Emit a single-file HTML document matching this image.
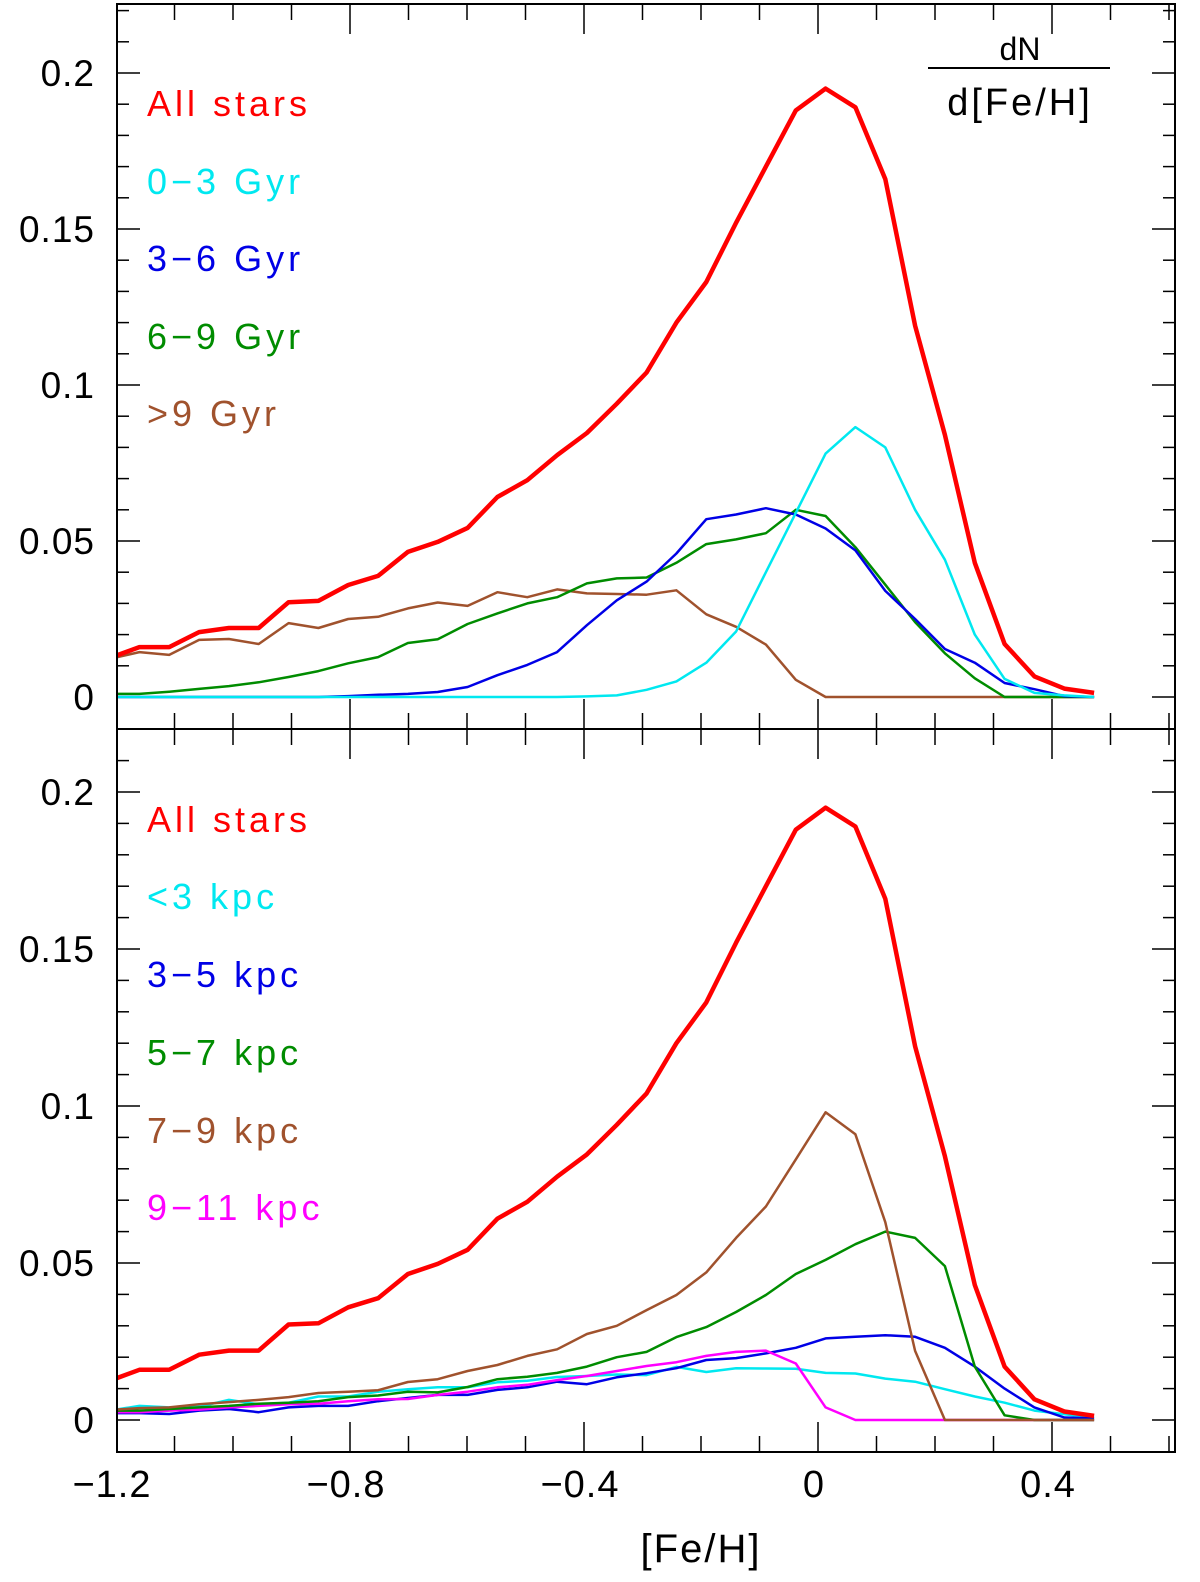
<!DOCTYPE html>
<html><head><meta charset="utf-8"><style>
body{margin:0;background:#fff}
svg{display:block;font-family:"Liberation Sans",sans-serif}
</style></head><body>
<svg id="c" width="1200" height="1582" viewBox="0 0 1200 1582"></svg>
<script>
const feh = [];
const nBins = 34;
const binStart = -1.211, binStep = 0.051;
const allStars = [0.0125,0.016,0.016,0.0208,0.0221,0.0221,0.0304,0.0308,0.0359,0.0388,0.0465,0.0497,0.0542,0.0641,0.0695,0.0775,0.0846,0.094,0.104,0.120,0.133,0.152,0.170,0.188,0.195,0.189,0.166,0.119,0.084,0.043,0.017,0.0066,0.0027,0.0013];
const age03 = [0,0,0,0,0,0,0,0,0,0,0,0,0,0,0,0,0.0002,0.0005,0.0023,0.005,0.011,0.021,0.040,0.059,0.078,0.0865,0.080,0.060,0.044,0.020,0.0058,0.0013,0.0005,0];
const age36 = [0,0,0,0,0,0,0,0,0.0003,0.0007,0.001,0.0016,0.0032,0.007,0.0103,0.0144,0.023,0.031,0.037,0.046,0.057,0.0585,0.0605,0.0585,0.054,0.047,0.034,0.025,0.0154,0.011,0.0045,0.0025,0.0003,0];
const age69 = [0.001,0.001,0.0017,0.0026,0.0035,0.0047,0.0064,0.0083,0.0108,0.0128,0.0173,0.0185,0.0234,0.0268,0.030,0.032,0.0364,0.038,0.0383,0.043,0.049,0.0505,0.0525,0.060,0.058,0.048,0.036,0.024,0.014,0.006,0,0,0,0];
const age9 = [0.0122,0.0144,0.0135,0.0183,0.0186,0.017,0.0237,0.0221,0.025,0.0257,0.0284,0.0303,0.0292,0.0336,0.032,0.0345,0.0332,0.033,0.0328,0.0342,0.0265,0.0225,0.0168,0.0055,0,0,0,0,0,0,0,0,0,0];
const r3 = [0.003,0.0045,0.004,0.0042,0.0064,0.005,0.0055,0.0075,0.0075,0.009,0.0098,0.0104,0.0104,0.012,0.0125,0.0137,0.014,0.0145,0.0143,0.0169,0.0153,0.0165,0.0164,0.0163,0.015,0.0148,0.0132,0.0122,0.0098,0.0075,0.0055,0.003,0.0018,0.0008];
const r35 = [0.0022,0.0022,0.0019,0.003,0.0035,0.0025,0.004,0.0045,0.0045,0.006,0.007,0.008,0.008,0.0096,0.0104,0.0122,0.0114,0.0136,0.0149,0.0165,0.0191,0.0197,0.0212,0.023,0.026,0.0265,0.027,0.0265,0.023,0.017,0.010,0.004,0.0008,0.0005];
const r57 = [0.003,0.003,0.0035,0.004,0.0045,0.0052,0.0055,0.006,0.0073,0.0078,0.009,0.0088,0.0105,0.013,0.0138,0.015,0.017,0.020,0.0217,0.0264,0.0296,0.0344,0.0398,0.0465,0.051,0.056,0.060,0.058,0.049,0.017,0.0015,0,0,0];
const r79 = [0.0032,0.0038,0.004,0.005,0.0057,0.0064,0.0073,0.0086,0.009,0.0095,0.0121,0.013,0.0156,0.0175,0.0204,0.0225,0.0274,0.030,0.035,0.0398,0.047,0.058,0.068,0.083,0.098,0.091,0.063,0.022,0,0,0,0,0,0];
const r911 = [0.0025,0.0025,0.003,0.0033,0.004,0.0045,0.005,0.0052,0.006,0.0066,0.0067,0.008,0.009,0.0104,0.0112,0.0127,0.014,0.0156,0.0172,0.0184,0.0204,0.0217,0.0221,0.018,0.004,0,0,0,0,0,0,0,0,0];
const xTickLabels = ["−1.2","−0.8","−0.4","0","0.4"];
const xTickVals = [-1.2,-0.8,-0.4,0,0.4];
const yTickLabels = ["0","0.05","0.1","0.15","0.2"];
const yTickVals = [0,0.05,0.1,0.15,0.2];
for(let k=0;k<nBins;k++) feh.push(binStart+binStep*k);

const NS="http://www.w3.org/2000/svg";
const svg=document.getElementById('c');
const L=117,R=1175;
const X=v=>818+585*v;
const panels=[{top:4,bot:729,zero:697,s:3120},{top:729,bot:1452,zero:1420,s:3140}];
function el(t,a,p){const e=document.createElementNS(NS,t);for(const k in a)e.setAttribute(k,a[k]);(p||svg).appendChild(e);return e;}
const defs=el('defs',{});
panels.forEach((p,i)=>{const cp=el('clipPath',{id:'clip'+i},defs);el('rect',{x:L,y:p.top,width:R-L,height:p.bot-p.top},cp);});

function drawPanel(pi,series,legend){
  const p=panels[pi];const Y=v=>p.zero-p.s*v;
  const g=el('g',{});
  
  
  const tk=el('g',{stroke:'#000','stroke-width':1.5},g);
  
  
  for(let j=-1;j<=22;j++){const v=j*0.01;const y=Y(v);if(y<p.top+1||y>p.bot-1)continue;
    const len=(j%5===0)?23:12;
    el('line',{x1:L,y1:y,x2:L+len,y2:y},tk);el('line',{x1:R,y1:y,x2:R-len,y2:y},tk);}
  for(let j=-12;j<=6;j++){const v=j*0.1;const x=X(v);if(x<L+1||x>R-1)continue;
    const len=(j%4===0)?30:16;
    el('line',{x1:x,y1:p.bot,x2:x,y2:p.bot-len},tk);el('line',{x1:x,y1:p.top,x2:x,y2:p.top+len},tk);}
  yTickVals.forEach((v,i)=>{const t=el('text',{x:95,y:Y(v)+13,'text-anchor':'end','font-size':37,'letter-spacing':'1'},g);t.textContent=yTickLabels[i];
    
    });
  const sg=el('g',{'clip-path':'url(#clip'+pi+')',fill:'none','stroke-linejoin':'round'},g);
  series.forEach(s=>{
    const d=s.vals.map((v,k)=>(k?'L':'M')+X(feh[k]).toFixed(1)+','+Y(v).toFixed(1)).join('');
    const path=el('path',{d:d,stroke:s.c,'stroke-width':s.w},sg);
    
    
  });
  legend.forEach(l=>{const t=el('text',{x:147,y:l.y,fill:l.c,'font-size':36,'letter-spacing':'4'},g);t.textContent=l.t;
    
    });
}
drawPanel(0,[
 {vals:age9,c:'#a0522d',w:2.5,n:'age-gt9'},
 {vals:age69,c:'#008c00',w:2.5,n:'age-6-9'},
 {vals:age36,c:'#0000e6',w:2.5,n:'age-3-6'},
 {vals:age03,c:'#00e8f0',w:2.5,n:'age-0-3'},
 {vals:allStars,c:'#ff0000',w:4.5,n:'all-stars'}],
 [{t:'All stars',c:'#ff0000',y:116},{t:'0−3 Gyr',c:'#00e8f0',y:194},{t:'3−6 Gyr',c:'#0000e6',y:271},{t:'6−9 Gyr',c:'#008c00',y:349},{t:'>9 Gyr',c:'#a0522d',y:426}]);
drawPanel(1,[
 {vals:r3,c:'#00e8f0',w:2.5,n:'r-lt3'},
 {vals:r35,c:'#0000e6',w:2.5,n:'r-3-5'},
 {vals:r911,c:'#ff00ff',w:2.5,n:'r-9-11'},
 {vals:r57,c:'#008c00',w:2.5,n:'r-5-7'},
 {vals:r79,c:'#a0522d',w:2.5,n:'r-7-9'},
 {vals:allStars,c:'#ff0000',w:4.5,n:'all-stars-bottom'}],
 [{t:'All stars',c:'#ff0000',y:832},{t:'<3 kpc',c:'#00e8f0',y:909},{t:'3−5 kpc',c:'#0000e6',y:987},{t:'5−7 kpc',c:'#008c00',y:1065},{t:'7−9 kpc',c:'#a0522d',y:1143},{t:'9−11 kpc',c:'#ff00ff',y:1220}]);
const fr=el('g',{fill:'none',stroke:'#000','stroke-width':2});


el('rect',{x:L,y:4,width:R-L,height:1448},fr);
el('line',{x1:L,y1:729,x2:R,y2:729},fr);
xTickVals.forEach((v,i)=>{const t=el('text',{x:X(v)-4,y:1497,'text-anchor':'middle','font-size':38,'letter-spacing':'1'});t.textContent=xTickLabels[i];
  
  });
const xt=el('text',{x:X(-0.2),y:1562,'text-anchor':'middle','font-size':40,'letter-spacing':'2'});xt.textContent='[Fe/H]';


const t1=el('text',{x:1020,y:60,'text-anchor':'middle','font-size':32});t1.textContent='dN';


const ln=el('line',{x1:928,y1:68,x2:1110,y2:68,stroke:'#000','stroke-width':2});


const t2=el('text',{x:1020,y:115,'text-anchor':'middle','font-size':38,'letter-spacing':'3'});t2.textContent='d[Fe/H]';


</script>
</body></html>
